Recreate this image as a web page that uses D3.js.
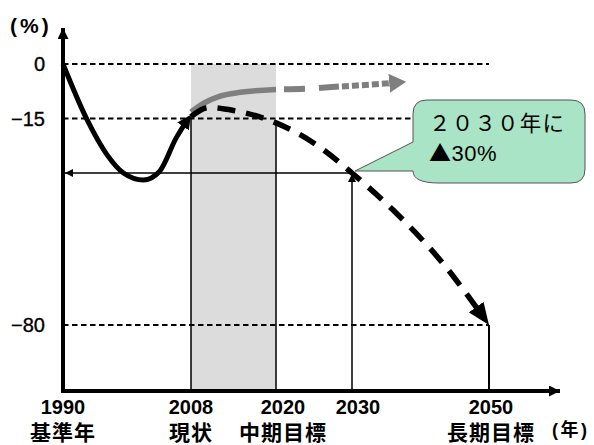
<!DOCTYPE html>
<html>
<head>
<meta charset="utf-8">
<script src="https://cdnjs.cloudflare.com/ajax/libs/d3/7.8.5/d3.min.js"></script>
<style>
  body { margin: 0; background: #fff; }
  svg { display: block; }
  text { font-family: "Liberation Sans", "Noto Sans CJK JP", sans-serif; }
  .jp { font-family: "Noto Sans CJK JP", "Liberation Sans", sans-serif; }
</style>
</head>
<body>
<script>
// milestone years on the x axis and their captions
var tickYears = [1990, 2008, 2020, 2030, 2050];
var tickNotes = ['基準年', '現状', '中期目標', '', '長期目標'];
var levelTicks = [0, -15, -80];

// emissions so far (1990 -> 2008)
var pastYears  = [1990, 1993.4, 1996.2, 1998.5, 2001.3, 2003.6, 2005.9, 2008];
var pastValues = [0, -15.4, -25, -30, -32.3, -29.5, -20.4, -14];

// reduction path to the long-term target
var planYears  = [2008, 2010.5, 2014, 2020, 2025, 2030, 2036, 2043, 2050];
var planValues = [-14.5, -12, -12.8, -16.2, -21.8, -30, -42.2, -59, -80];

// business as usual (gray)
var bauYears  = [2008, 2010, 2012, 2015, 2020];
var bauValues = [-13.2, -10.6, -8.9, -7.8, -7.0];
var bauNextYears  = [2020, 2023.9, 2028.4, 2034, 2037.9];
var bauNextValues = [-7.0, -6.8, -6.2, -5.5, -4.9];

var target2030 = -30;
var shadeFrom = 2008, shadeTo = 2020;

var W = 594, H = 445;
var box = {l: 63, r: 560, t: 28, b: 391};

var x = d3.scaleLinear().domain([1990, 2008, 2020, 2030, 2050]).range([63, 191, 276, 352, 489]);
var y = d3.scaleLinear().domain([0, -30, -80]).range([64, 173, 325]);

var svg = d3.select('body').append('svg').attr('width', W).attr('height', H);
var defs = svg.append('defs');

function arrowMarker(id, len, wid, color){
  defs.append('marker').attr('id', id)
    .attr('markerUnits', 'userSpaceOnUse')
    .attr('markerWidth', len).attr('markerHeight', wid)
    .attr('viewBox', '0 0 ' + len + ' ' + wid)
    .attr('refX', len).attr('refY', wid / 2)
    .attr('orient', 'auto')
    .append('path').attr('d', 'M0,0L' + len + ',' + (wid / 2) + 'L0,' + wid + 'Z')
    .attr('fill', color);
}
arrowMarker('headPast', 14, 14, '#000');
arrowMarker('headPlan', 22, 18, '#000');
arrowMarker('headBau', 17, 19, '#7f7f7f');
arrowMarker('headThin', 8, 8, '#000');
arrowMarker('headAxisX', 11, 11, '#000');
arrowMarker('headAxisY', 11, 11, '#000');

// dash pattern that stops before the end so the arrow tip stays sharp
function dashUntil(pattern, stop){
  var out = [], s = 0, i = 0;
  while (s < stop){
    var seg = pattern[i % pattern.length];
    if (i % 2 === 0 && s + seg > stop) seg = stop - s;
    out.push(seg); s += seg; i++;
  }
  if (out.length % 2 === 1) out.push(10000); else out.push(0, 10000);
  return out.join(',');
}

var line = d3.line().x(function(d){ return x(d[0]); }).y(function(d){ return y(d[1]); })
  .curve(d3.curveMonotoneX);

// shaded period
svg.append('rect')
  .attr('x', x(shadeFrom)).attr('y', y(0))
  .attr('width', x(shadeTo) - x(shadeFrom)).attr('height', box.b - y(0))
  .attr('fill', '#dcdcdc');

// dashed reference levels
svg.selectAll('.level').data(levelTicks).enter().append('line')
  .attr('class', 'level')
  .attr('x1', box.l).attr('x2', x(2050))
  .attr('y1', function(d){ return y(d); }).attr('y2', function(d){ return y(d); })
  .attr('stroke', '#000').attr('stroke-width', 1.8).attr('stroke-dasharray', '5.5,3.5');

// thin verticals at 2008 / 2020 and 2050
svg.append('line').attr('x1', x(2008)).attr('x2', x(2008)).attr('y1', y(-14.5)).attr('y2', box.b)
  .attr('stroke', '#000').attr('stroke-width', 1.5);
svg.append('line').attr('x1', x(2020)).attr('x2', x(2020)).attr('y1', y(-16.2)).attr('y2', box.b)
  .attr('stroke', '#000').attr('stroke-width', 1.5);
svg.append('line').attr('x1', x(2050)).attr('x2', x(2050)).attr('y1', y(-80)).attr('y2', box.b)
  .attr('stroke', '#000').attr('stroke-width', 2);

// 2030 target arrows
svg.append('line').attr('x1', x(2030)).attr('x2', box.l + 2).attr('y1', y(target2030)).attr('y2', y(target2030))
  .attr('stroke', '#000').attr('stroke-width', 1.5).attr('marker-end', 'url(#headThin)');
svg.append('line').attr('x1', x(2030)).attr('x2', x(2030)).attr('y1', box.b).attr('y2', y(target2030) + 1)
  .attr('stroke', '#000').attr('stroke-width', 1.5).attr('marker-end', 'url(#headThin)');

// gray business-as-usual
svg.append('path').datum(d3.zip(bauYears, bauValues)).attr('d', line)
  .attr('fill', 'none').attr('stroke', '#7f7f7f').attr('stroke-width', 5.5);
var bau = svg.append('path').datum(d3.zip(bauNextYears, bauNextValues)).attr('d', line)
  .attr('fill', 'none').attr('stroke', '#7f7f7f').attr('stroke-width', 6)
  .attr('marker-end', 'url(#headBau)');
var bauLen = bau.node().getTotalLength();
bau.attr('stroke-dasharray', dashUntil([0, 8, 21, 14, 20, 3, 7, 3, 7, 3, 7, 3, 7, 3, 7, 3, 7, 3, 7, 3], bauLen - 15));

// black dashed plan
var plan = svg.append('path').datum(d3.zip(planYears, planValues)).attr('d', line)
  .attr('fill', 'none').attr('stroke', '#000').attr('stroke-width', 5.5)
  .attr('marker-end', 'url(#headPlan)');
var planLen = plan.node().getTotalLength();
plan.attr('stroke-dasharray', dashUntil([18, 11], planLen - 14));

// solid past curve
var past = svg.append('path').datum(d3.zip(pastYears, pastValues)).attr('d', line)
  .attr('fill', 'none').attr('stroke', '#000').attr('stroke-width', 5)
  .attr('marker-end', 'url(#headPast)');
var pastLen = past.node().getTotalLength();
past.attr('stroke-dasharray', dashUntil([pastLen], pastLen - 8));

// axes
svg.append('line').attr('x1', box.l).attr('x2', box.l).attr('y1', box.b + 2).attr('y2', box.t)
  .attr('stroke', '#000').attr('stroke-width', 4).attr('marker-end', 'url(#headAxisY)');
svg.append('line').attr('x1', box.l - 2).attr('x2', box.r).attr('y1', box.b).attr('y2', box.b)
  .attr('stroke', '#000').attr('stroke-width', 4).attr('marker-end', 'url(#headAxisX)');

// y labels
svg.selectAll('.ylab').data(levelTicks).enter().append('text')
  .attr('class', 'ylab')
  .attr('x', 45).attr('y', function(d){ return y(d) + 7; })
  .attr('text-anchor', 'end').attr('font-size', 20)
  .attr('stroke', '#000').attr('stroke-width', 0.35)
  .text(function(d){ return d < 0 ? '\u2212' + Math.abs(d) : d; });
svg.append('text').attr('x', 10).attr('y', 33)
  .attr('font-size', 21).attr('font-weight', 'bold').attr('letter-spacing', 3)
  .text('(%)');

// x labels
var labelShift = {2020: 7, 2030: 6, 2050: 2};
var xl = svg.selectAll('.xlab').data(tickYears).enter().append('g')
  .attr('class', 'xlab')
  .attr('transform', function(d){ return 'translate(' + (x(d) + (labelShift[d] || 0)) + ',0)'; });
xl.append('text').attr('y', 414).attr('text-anchor', 'middle')
  .attr('font-size', 20).attr('font-weight', 'bold').text(function(d){ return d; });
xl.append('text').attr('class', 'jp').attr('y', 440).attr('text-anchor', 'middle')
  .attr('font-size', 21).attr('font-weight', 'bold').attr('letter-spacing', 1)
  .text(function(d, i){ return tickNotes[i]; });
svg.append('text').attr('x', 552).attr('y', 436)
  .attr('font-size', 18).attr('font-weight', 'bold').attr('letter-spacing', 2.5)
  .call(function(t){
    t.append('tspan').text('(');
    t.append('tspan').attr('font-family', 'Noto Sans CJK JP').text('年');
    t.append('tspan').text(')');
  });

// callout
var tipX = x(2030) + 3, tipY = y(target2030) - 2;
var bx0 = 413, bx1 = 585, by0 = 100, by1 = 183, rr = 14;
var callout = d3.path();
callout.moveTo(tipX, tipY);
callout.lineTo(bx0, 142);
callout.lineTo(bx0, by0 + rr);
callout.quadraticCurveTo(bx0, by0, bx0 + rr, by0);
callout.lineTo(bx1 - rr, by0);
callout.quadraticCurveTo(bx1, by0, bx1, by0 + rr);
callout.lineTo(bx1, by1 - rr);
callout.quadraticCurveTo(bx1, by1, bx1 - rr, by1);
callout.lineTo(bx0 + 26, by1);
callout.quadraticCurveTo(bx0, by1, bx0, 171);
callout.closePath();
svg.append('path').attr('d', callout.toString())
  .attr('fill', '#a9e4c7').attr('stroke', '#555').attr('stroke-width', 1);
svg.append('text').attr('class', 'jp').attr('x', 429).attr('y', 131)
  .attr('font-size', 21.5).attr('letter-spacing', 1.2).text('２０３０年に');
svg.append('text').attr('x', 429).attr('y', 161)
  .attr('font-size', 22).attr('letter-spacing', 0.5)
  .call(function(t){
    t.append('tspan').attr('font-family', 'Noto Sans CJK JP').text('▲');
    t.append('tspan').text('30%');
  });
</script>
</body>
</html>
